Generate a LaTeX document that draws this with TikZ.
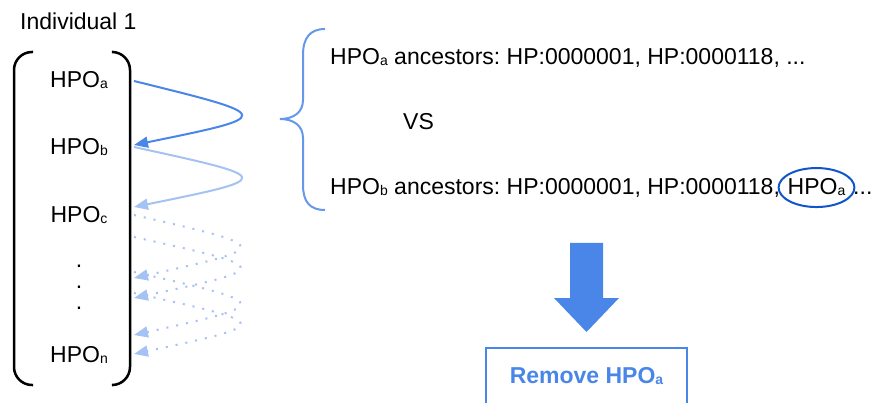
\documentclass[tikz,border=0pt]{standalone}
\usepackage{fontspec}
\setmainfont{Liberation Sans}
\usepackage{tikz}
\usetikzlibrary{positioning, arrows.meta, shapes.geometric}

\definecolor{gblue}{HTML}{4A86E8}
\definecolor{gpale}{HTML}{A4C2F4}
\definecolor{gdark}{HTML}{1155CC}
\newcommand{\HPO}[1]{HPO{\fontsize{14}{14}\selectfont\raisebox{-1pt}{#1}}}
\frenchspacing

\begin{document}
\begin{tikzpicture}[x=1pt,y=-1pt,>={Triangle[length=14pt,width=11pt]},node distance=67pt,
                    txt/.style={font=\fontsize{23}{27}\selectfont, inner sep=0pt},
                    strong/.style={->, draw=gblue, line width=2pt},
                    pale/.style={->, draw=gpale, line width=2pt},
                    dotted pale/.style={pale, dash pattern=on 2pt off 8pt},
                    bracket/.style={line width=2.5pt, rounded corners=18pt},
                    curly/.style={draw=gblue!85!white, line width=2pt},
                    hit/.style={txt, ellipse, draw=gdark, line width=2pt, inner xsep=-2pt, minimum height=39pt},
                    resbox/.style={txt, draw=gblue, line width=2pt, text=gblue, font=\fontsize{23}{27}\selectfont\bfseries,
                                   minimum width=201pt, text height=35pt, text depth=30pt}]
                        \useasboundingbox (0,0) rectangle (872,403);
                        \clip (0,0) rectangle (872,403);
                        \node[txt, anchor=base west] (ind)  at (20,30)                      {Individual 1};
                        \node[txt]                   (a)    at (79,80.5)                    {\HPO{a}};
                        \node[txt]                   (b)    [below of=a]                    {\HPO{b}};
                        \node[txt]                   (c)    [below of=b, node distance=68pt] {\HPO{c}};
                        \node[txt]                   (d1)   [below of=c, node distance=51pt] {.};
                        \node[txt]                   (d2)   [below of=d1,node distance=21pt] {.};
                        \node[txt]                   (d3)   [below of=d2,node distance=21pt] {.};
                        \node[txt]                   (n)    [below of=d3,node distance=46pt] {\HPO{n}};
                        % round brackets of the list
                        \draw[bracket] (33,52)  -| (14,385)  -- (33,385);
                        \draw[bracket] (113,52) -| (130,385) -- (113,385);
                        % connector ends on the right bracket
                        \coordinate (outa) at (134,81);
                        \coordinate (inb)  at (134,145);
                        \coordinate (outb) at (134,147);
                        \coordinate (inc)  at (134,207);
                        \coordinate (out1) at (134,215);
                        \coordinate (out2) at (134,237);
                        \coordinate (out3) at (134,272);
                        \coordinate (out4) at (134,293);
                        \coordinate (in1)  at (134,278);
                        \coordinate (in2)  at (134,298);
                        \coordinate (in3)  at (134,335);
                        \coordinate (in4)  at (134,354);
                        \draw[strong]      (outa) .. controls (276,116) .. (inb);
                        \draw[pale]        (outb) .. controls (276,178) .. (inc);
                        \draw[dotted pale] (out1) .. controls (274,247) .. (in1);
                        \draw[dotted pale] (out2) .. controls (274,268) .. (in2);
                        \draw[dotted pale] (out3) .. controls (274,304) .. (in3);
                        \draw[dotted pale] (out4) .. controls (274,324) .. (in4);
                        % comparison
                        \draw[curly] (325,29) .. controls (310,29) and (303,38) .. (303,55) -- (303,100)
                                     .. controls (303,112) and (294,119) .. (280,119)
                                     .. controls (294,119) and (303,126) .. (303,138) -- (303,185)
                                     .. controls (303,202) and (310,210) .. (325,210);
                        \node[txt, anchor=base west] (anca) at (330,65)    {\HPO{a} ancestors: HP:0000001, HP:0000118, ...};
                        \node[txt, anchor=base west] (vs)   at (403,130)   {VS};
                        \node[txt, anchor=base west] (ancb) at (330,195)   {\HPO{b} ancestors: HP:0000001, HP:0000118,};
                        \node[hit, anchor=base]      (hpoa) at (816.5,195) {\HPO{a}};
                        \node[txt, anchor=base west] (more) at (853,195)   {...};
                        % result
                        \fill[gblue] (570,243) -- (603,243) -- (603,298) -- (619,298) -- (586.5,332) -- (554,298) -- (570,298) -- cycle;
                        \node[resbox, anchor=north]  (rm)   at (586.5,347) {Remove \HPO{a}};
                    \end{tikzpicture}
\end{document}
